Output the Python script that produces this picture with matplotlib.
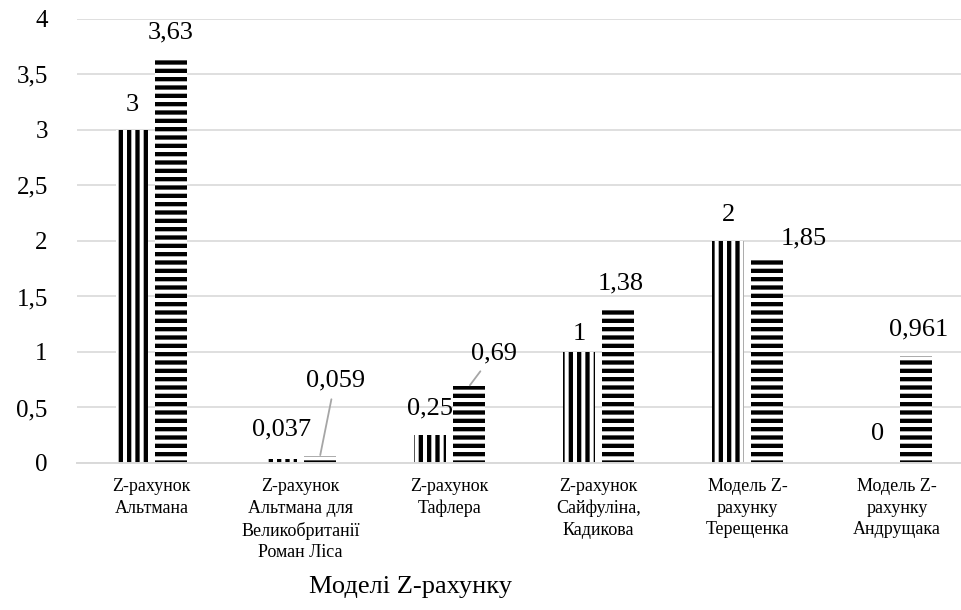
import matplotlib
matplotlib.use("Agg")
from matplotlib import pyplot as plt
from matplotlib.ticker import FuncFormatter
from numpy import arange

# Models and their Z-score thresholds / results
categories = [
    "Z-рахунок\nАльтмана",
    "Z-рахунок\nАльтмана для\nВеликобританії\nРоман Ліса",
    "Z-рахунок\nТафлера",
    "Z-рахунок\nСайфуліна,\nКадикова",
    "Модель Z-\nрахунку\nТерещенка",
    "Модель Z-\nрахунку\nАндрущака",
]
series_a = [3, 0.037, 0.25, 1, 2, 0]
series_b = [3.63, 0.059, 0.69, 1.38, 1.85, 0.961]
y_ticks = [0, 0.5, 1, 1.5, 2, 2.5, 3, 3.5, 4]

# label offsets (points) relative to each bar top
offs_a = [(0, 18), (0, 21), (0, 19), (0, 13), (0, 19), (0, 21)]
offs_b = [(0, 20), (11, 55), (18, 24), (2, 19), (26, 14), (2, 19)]
leader_b = [False, True, True, False, False, False]

plt.rcParams["font.family"] = ["Liberation Serif", "DejaVu Serif"]
plt.rcParams["hatch.linewidth"] = 3.1
plt.rcParams["hatch.color"] = "black"

fig = plt.figure(figsize=(9.61, 6.10), dpi=100)
ax = fig.add_axes([0.0801, 0.241, 0.9199, 0.728])

pos = arange(len(categories))
width = 0.215
shift = 0.13
GRID = "#d9d9d9"

bars_a = ax.bar(pos - shift, series_a, width, color="white",
                edgecolor="black", linewidth=0, hatch="||", zorder=2)
bars_b = ax.bar(pos + shift, series_b, width, color="white",
                edgecolor="black", linewidth=0, hatch="--", zorder=2)


def fmt(v):
    return "{:g}".format(v).replace(".", ",")


for x, v, (dx, dy) in zip(pos - shift, series_a, offs_a):
    ax.annotate(fmt(v), xy=(x, v), xytext=(dx, dy),
                textcoords="offset points", ha="center", va="center",
                fontsize=19, zorder=3)

for x, v, (dx, dy), lead in zip(pos + shift, series_b, offs_b, leader_b):
    props = None
    if lead:
        props = dict(arrowstyle="-", color="#a6a6a6", lw=1.3,
                     shrinkA=4, shrinkB=1)
    ax.annotate(fmt(v), xy=(x, v), xytext=(dx, dy),
                textcoords="offset points", ha="center", va="center",
                fontsize=19, arrowprops=props, zorder=3)

ax.set_ylim(0, 4)
ax.set_xlim(-0.5, 5.43)
ax.set_yticks(y_ticks)
ax.yaxis.set_major_formatter(FuncFormatter(lambda v, p: fmt(v)))
ax.set_xticks(pos)
ax.set_xticklabels(categories, fontsize=13, linespacing=1.35)
ax.tick_params(axis="y", length=0, pad=21, labelsize=18)
ax.tick_params(axis="x", length=0, pad=11)

ax.grid(axis="y", color=GRID, linewidth=1.2, zorder=0)
ax.set_axisbelow(True)
for side in ("top", "right", "left"):
    ax.spines[side].set_visible(False)
ax.spines["bottom"].set_color(GRID)
ax.spines["bottom"].set_linewidth(1.4)

ax.set_xlabel("Моделі Z-рахунку", fontsize=19)
ax.xaxis.set_label_coords(0.377, -0.254)
ax.xaxis.label.set_va("top")

fig.savefig("out.png", dpi=100)
